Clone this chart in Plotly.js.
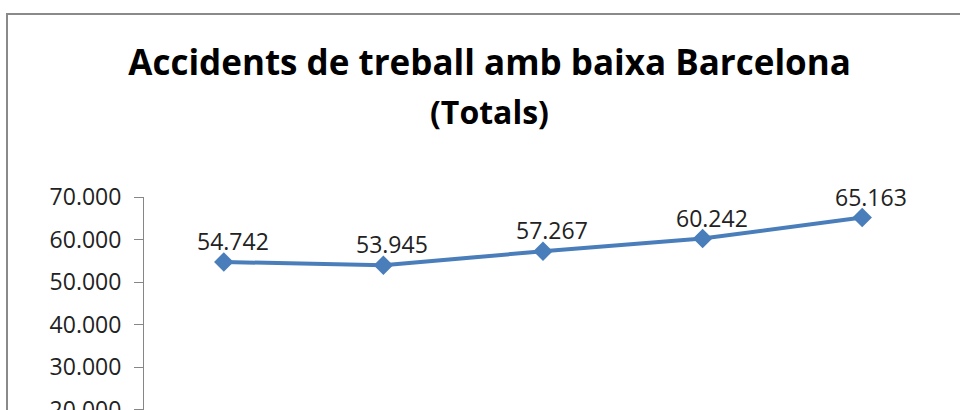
<!DOCTYPE html>
<html>
<head>
<meta charset="utf-8">
<script src="https://cdn.plot.ly/plotly-3.0.1.min.js"></script>
<style>
  html, body { margin: 0; padding: 0; background: #fff; overflow: hidden; width: 960px; height: 410px; }
  #chart { position: absolute; left: 0; top: 0; width: 960px; height: 520px; }
  #frame { position: absolute; left: 6px; top: 13px; width: 1200px; height: 1000px;
           border-left: 2px solid #8a8a8a; border-top: 2px solid #8a8a8a; pointer-events: none; }
</style>
</head>
<body>
<div id="chart"></div>
<div id="frame"></div>
<script>
// Data
const categories = ['2004', '2005', '2006', '2007', '2008'];
const totals = [54742, 53945, 57267, 60242, 65163];
const yTickValues = [20000, 30000, 40000, 50000, 60000, 70000];

function fmt(v) {
  return String(v).replace(/\B(?=(\d{3})+(?!\d))/g, '.');
}

const FONT = '"Open Sans", "Liberation Sans", sans-serif';

const trace = {
  type: 'scatter',
  mode: 'lines+markers',
  x: categories,
  y: totals,
  line: { color: '#4A7EBB', width: 4 },
  marker: { symbol: 'diamond', size: 15, color: '#4A7EBB' },
  hoverinfo: 'skip'
};

const labelAnnotations = categories.map((c, i) => ({
  x: i, y: totals[i], xref: 'x', yref: 'y',
  text: fmt(totals[i]),
  showarrow: false,
  xshift: 9, yshift: 21,
  xanchor: 'center', yanchor: 'middle',
  font: { family: FONT, size: 23, color: '#222' }
}));

const layout = {
  width: 960,
  height: 520,
  margin: { l: 144, r: 18, t: 197, b: 25 },
  paper_bgcolor: 'rgba(0,0,0,0)',
  plot_bgcolor: 'rgba(0,0,0,0)',
  separators: ',.',
  showlegend: false,
  title: {
    text: '<b>Accidents de treball amb baixa Barcelona</b>',
    x: 0.51, xanchor: 'center',
    y: 1 - 63 / 520, yanchor: 'middle', yref: 'container',
    font: { family: FONT, size: 35, color: '#000' }
  },
  annotations: [
    {
      text: '<b>(Totals)</b>',
      xref: 'paper', yref: 'paper',
      x: (489 - 144) / 798, y: (495 - 112) / 298,
      xanchor: 'center', yanchor: 'middle', showarrow: false,
      font: { family: FONT, size: 32, color: '#000' }
    }
  ].concat(labelAnnotations),
  xaxis: {
    type: 'category',
    range: [-0.5, 4.5],
    showgrid: false, zeroline: false,
    showline: true, linecolor: '#868686', linewidth: 1,
    ticks: 'outside', ticklen: 6, tickcolor: '#868686',
    showticklabels: false
  },
  yaxis: {
    range: [0, 70000],
    tickvals: yTickValues,
    ticktext: yTickValues.map(fmt),
    showgrid: false, zeroline: false,
    showline: true, linecolor: '#868686', linewidth: 1,
    ticks: 'outside', ticklen: 9, tickcolor: '#868686',
    tickfont: { family: FONT, size: 23, color: '#222' },
    ticklabelstandoff: 8
  }
};

Plotly.newPlot('chart', [trace], layout, { displayModeBar: false, staticPlot: true });
</script>
</body>
</html>
